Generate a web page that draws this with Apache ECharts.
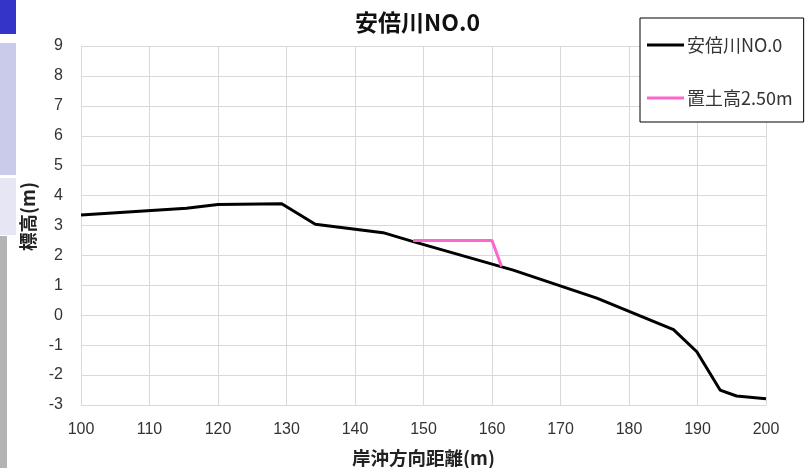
<!DOCTYPE html>
<html>
<head>
<meta charset="utf-8">
<script src="https://cdn.jsdelivr.net/npm/echarts@6/dist/echarts.min.js"></script>
<style>
  html, body { margin: 0; padding: 0; background: #ffffff; }
  #chart { width: 811px; height: 468px; }
</style>
</head>
<body>
<div id="chart"></div>
<script>
// Cross-shore profile (distance in m, elevation in m)
const profileX = [100, 115.4, 120, 129.3, 134.2, 144.1, 148.5, 163.1, 175.3, 186.5, 189.9, 193.3, 195.7, 200];
const profileY = [3.35, 3.58, 3.70, 3.73, 3.04, 2.76, 2.46, 1.51, 0.57, -0.48, -1.22, -2.50, -2.70, -2.79];

// Fill placement at 2.50 m
const fillX = [148.5, 160, 161.4];
const fillY = [2.5, 2.5, 1.63];

const profileName = '安倍川NO.0';
const fillName = '置土高2.50m';
const chartTitle = '安倍川NO.0';
const xName = '岸沖方向距離(m)';
const yName = '標高(m)';

const pairs = (xs, ys) => xs.map((x, i) => [x, ys[i]]);

const font = '"Noto Sans CJK JP", "Noto Sans", sans-serif';

const chart = echarts.init(document.getElementById('chart'), null, { renderer: 'canvas' });

chart.setOption({
  backgroundColor: '#ffffff',
  animation: false,
  textStyle: { fontFamily: font },
  title: {
    text: chartTitle,
    left: 350,
    top: 6,
    textStyle: { fontSize: 23, fontWeight: 'bold', color: '#111111', fontFamily: font }
  },
  graphic: [
    { type: 'rect', shape: { x: 0, y: 0, width: 16, height: 34 }, style: { fill: '#3434c8' }, silent: true },
    { type: 'rect', shape: { x: 0, y: 43, width: 16, height: 132 }, style: { fill: '#cacaea' }, silent: true },
    { type: 'rect', shape: { x: 0, y: 178, width: 16, height: 57 }, style: { fill: '#e6e6f5' }, silent: true },
    { type: 'rect', shape: { x: 0, y: 236, width: 7, height: 232 }, style: { fill: '#b4b4b4' }, silent: true }
  ],
  legend: {
    left: 640,
    top: 18,
    orient: 'vertical',
    padding: [16, 11, 13, 7],
    itemGap: 31,
    itemWidth: 37,
    itemHeight: 3,
    icon: 'rect',
    borderColor: '#000000',
    borderWidth: 1,
    backgroundColor: '#ffffff',
    textStyle: { fontSize: 18, lineHeight: 22, color: '#333333', fontFamily: font, padding: [0, 0, 0, -2] },
    data: [profileName, fillName]
  },
  grid: { left: 81, right: 45, top: 46, bottom: 63, containLabel: false, outerBoundsMode: 'none' },
  xAxis: {
    type: 'value',
    min: 100,
    max: 200,
    interval: 10,
    name: xName,
    nameLocation: 'middle',
    nameGap: 44,
    nameTextStyle: { fontSize: 18.5, fontWeight: 'bold', color: '#222222', fontFamily: font },
    axisLine: { show: true, lineStyle: { color: '#d9d9d9', width: 1 } },
    axisTick: { show: false },
    axisLabel: { fontSize: 16, color: '#333333', margin: 17, fontFamily: '"Liberation Sans", sans-serif' },
    splitLine: { show: true, lineStyle: { color: '#d9d9d9', width: 1 } }
  },
  yAxis: {
    type: 'value',
    min: -3,
    max: 9,
    interval: 1,
    name: yName,
    nameLocation: 'middle',
    nameGap: 44,
    nameRotate: 90,
    nameTextStyle: { fontSize: 18.5, fontWeight: 'bold', color: '#222222', fontFamily: font, padding: [0, 0, 0, 18] },
    axisLine: { show: true, lineStyle: { color: '#d9d9d9', width: 1 } },
    axisTick: { show: false },
    axisLabel: { fontSize: 16, color: '#333333', margin: 18, fontFamily: '"Liberation Sans", sans-serif' },
    splitLine: { show: true, lineStyle: { color: '#d9d9d9', width: 1 } }
  },
  series: [
    {
      name: profileName,
      type: 'line',
      data: pairs(profileX, profileY),
      symbol: 'none',
      lineStyle: { color: '#000000', width: 3 },
      itemStyle: { color: '#000000' },
      z: 2
    },
    {
      name: fillName,
      type: 'line',
      data: pairs(fillX, fillY),
      symbol: 'none',
      lineStyle: { color: '#ff66cc', width: 3 },
      itemStyle: { color: '#ff66cc' },
      z: 3
    }
  ]
});
</script>
</body>
</html>
